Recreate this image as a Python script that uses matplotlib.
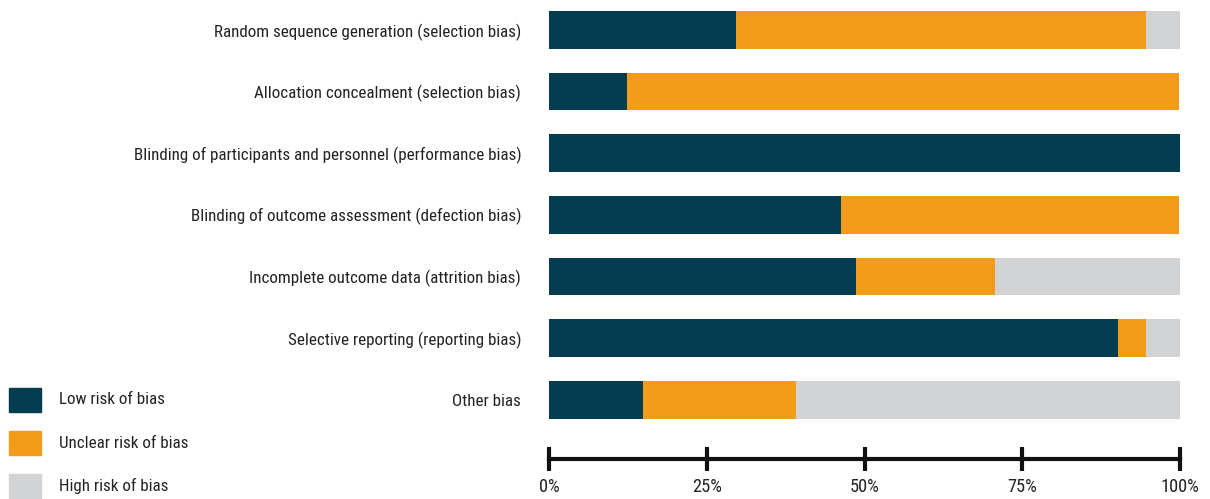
import numpy as np
import matplotlib.pyplot as plt
from matplotlib import font_manager
from matplotlib.patches import Rectangle

# bias domains, top to bottom
domains = [
    "Random sequence generation (selection bias)",
    "Allocation concealment (selection bias)",
    "Blinding of participants and personnel (performance bias)",
    "Blinding of outcome assessment (defection bias)",
    "Incomplete outcome data (attrition bias)",
    "Selective reporting (reporting bias)",
    "Other bias",
]
# percent of studies per judgement
low_risk = [29.7, 12.3, 100.0, 46.2, 48.7, 90.2, 14.9]
unclear_risk = [64.9, 87.5, 0.0, 53.6, 22.0, 4.4, 24.3]
high_risk = [5.4, 0.0, 0.0, 0.0, 29.3, 5.4, 60.8]
risk_names = ["Low risk of bias", "Unclear risk of bias", "High risk of bias"]
x_ticks = [0, 25, 50, 75, 100]

colors = ["#033d4f", "#f39c1c", "#d2d3d5"]
txt = "#222222"

# look for a condensed font, the original uses a narrow sans
prefs = ["RobotoCondensed-Regular", "OpenSans_Condensed-Regular", "OpenSansCondensed-Regular",
         "LiberationSansNarrow-Regular", "NotoSans-Condensed.", "NotoSans-SemiCondensed.",
         "DejaVuSansCondensed.", "Roboto-Regular", "Lato-Regular"]
files = [f.fname for f in font_manager.fontManager.ttflist]
font_file = None
for p in prefs:
    hits = [f for f in files if p in f.split('/')[-1]]
    if hits:
        font_file = hits[0]
        break
fp = font_manager.FontProperties(fname=font_file) if font_file else font_manager.FontProperties(family='DejaVu Sans')

fig = plt.figure(figsize=(12.1, 4.99), dpi=100)

# size the text so the longest label is as wide as in the original (~389 px)
probe = fig.text(0, 0, domains[2], fontproperties=fp, fontsize=14)
w = probe.get_window_extent(fig.canvas.get_renderer()).width
probe.remove()
fs = 14 * 389 / w
fp.set_size(fs)
fp_tick = fp.copy()
fp_tick.set_size(fs * 1.08)

ax = fig.add_axes([549 / 1210, 40 / 499, 631 / 1210, 459 / 499])

pos = np.arange(len(domains))
low = np.array(low_risk)
unc = np.array(unclear_risk)
high = np.array(high_risk)
h = 0.61
ax.barh(pos, low, height=h, color=colors[0])
ax.barh(pos, unc, left=low, height=h, color=colors[1])
ax.barh(pos, high, left=low + unc, height=h, color=colors[2])

ax.set_xlim(0, 100)
ax.set_ylim(6.96, -0.486)
ax.set_yticks(pos)
ax.set_yticklabels(domains, fontproperties=fp, color=txt)
ax.tick_params(axis='y', length=0, pad=20)
ax.set_xticks(x_ticks)
ax.set_xticklabels([f"{t}%" for t in x_ticks], fontproperties=fp_tick, color=txt)
ax.tick_params(axis='x', direction='inout', length=17, width=3, pad=5, color='#111111')
for s in ['top', 'right', 'left']:
    ax.spines[s].set_visible(False)
ax.spines['bottom'].set_linewidth(3)
ax.spines['bottom'].set_color('#111111')

# legend at bottom left
for i, (name, c) in enumerate(zip(risk_names, colors)):
    fig.add_artist(Rectangle((9 / 1210, 1 - (412 + 43 * i) / 499), 32 / 1210, 24 / 499,
                             transform=fig.transFigure, color=c))
    fig.text(59 / 1210, 1 - (400 + 43 * i) / 499, name, fontproperties=fp, color=txt, va='center')

fig.savefig("out.png", dpi=100)
